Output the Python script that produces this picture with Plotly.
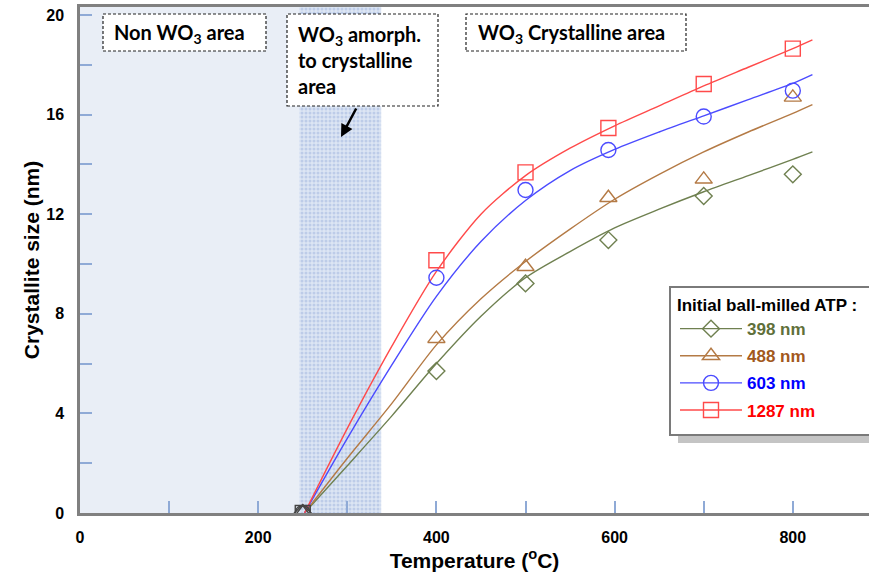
import plotly.graph_objects as go

# ---------------- data ----------------
temps = [250, 400, 500, 593, 700, 800]
size_398 = [0, 5.7, 9.22, 10.96, 12.73, 13.6]
size_488 = [0, 7.0, 9.89, 12.66, 13.4, 16.69]
size_603 = [0, 9.45, 12.97, 14.58, 15.92, 16.96]
size_1287 = [0, 10.15, 13.68, 15.46, 17.23, 18.65]

fit_x = [252, 300, 350, 400, 450, 500, 550, 600, 650, 700, 750, 800, 822]
fit_398 = [0, 1.9, 3.9, 6.0, 7.9, 9.45, 10.5, 11.45, 12.2, 12.9, 13.55, 14.2, 14.5]
fit_488 = [0, 2.2, 4.4, 6.75, 8.6, 10.1, 11.4, 12.6, 13.6, 14.5, 15.3, 16.05, 16.4]
fit_603 = [0, 3.0, 5.95, 8.7, 10.9, 12.55, 13.75, 14.6, 15.3, 15.95, 16.6, 17.25, 17.6]
fit_1287 = [0, 3.4, 6.7, 9.7, 12.0, 13.55, 14.65, 15.55, 16.35, 17.15, 17.9, 18.65, 19.0]

series_names = ["398 nm", "488 nm", "603 nm", "1287 nm"]
legend_title = "Initial ball-milled ATP :"
x_ticks = [0, 200, 400, 600, 800]
y_ticks = [0, 4, 8, 12, 16, 20]

# ---------------- geometry helpers ----------------
W, H = 869, 574
ML, MR, MT, MB = 80, 0, 7, 61
XMAX = 885.5
YMAX = 20.32
PW, PH = W - ML - MR, H - MT - MB


def xd(px):
    return (px - ML) / PW * XMAX


def yd(py):
    return (H - MB - py) / PH * YMAX


def xp(px):
    return (px - ML) / PW


def yp(py):
    return (H - MB - py) / PH


line_cols = ["#6F8050", "#B47A45", "#4B4BFF", "#FF4A4A"]
text_cols = ["#5F703A", "#A2581C", "#0000FF", "#FF0000"]
symbols = ["diamond-open", "triangle-up-open", "circle-open", "square-open"]
msizes = [13, 15, 15, 15]
FONT = "Liberation Sans, Arial"

fig = go.Figure()

# shaded amorphous->crystalline band (pattern)
fig.add_trace(go.Scatter(
    x=[246, 338, 338, 246, 246], y=[0, 0, YMAX, YMAX, 0],
    fill="toself", mode="none", hoverinfo="skip", showlegend=False,
    fillcolor="#D7E1F2",
    fillpattern=dict(shape=".", fgcolor="#9DB4DE", bgcolor="#DCE5F3", size=4, solidity=0.45),
))

fits = [fit_398, fit_488, fit_603, fit_1287]
pts = [size_398, size_488, size_603, size_1287]

for i in range(4):
    fig.add_trace(go.Scatter(
        x=fit_x, y=fits[i], mode="lines",
        line=dict(color=line_cols[i], width=1.4, shape="spline", smoothing=0.8),
        showlegend=False, hoverinfo="skip"))

for i in range(4):
    cols = ["#444444"] + [line_cols[i]] * (len(temps) - 1)
    fig.add_trace(go.Scatter(
        x=temps, y=pts[i], mode="markers",
        marker=dict(symbol=symbols[i], size=msizes[i], color=cols, line=dict(width=1.4)),
        showlegend=False))

for i in range(4):
    fig.add_trace(go.Scatter(
        x=[None], y=[None], mode="lines+markers", legendgroup="g%d" % i,
        name="<span style='color:%s'>%s</span>" % (text_cols[i], series_names[i]),
        line=dict(color=line_cols[i], width=1.4),
        marker=dict(symbol=symbols[i], size=msizes[i], color=line_cols[i], line=dict(width=1.4)),
    ))

shapes = []
# non-WO3 area background
shapes.append(dict(type="rect", xref="x", yref="y", x0=0, x1=246, y0=0, y1=YMAX,
                   fillcolor="#E9EEF6", line=dict(width=0), layer="below"))
# dashed text boxes
for (x0, x1, y0, y1) in [(103, 266, 14, 51), (287, 438, 14, 106), (466, 686, 14, 51)]:
    shapes.append(dict(type="rect", xref="x", yref="y", x0=xd(x0), x1=xd(x1), y0=yd(y1), y1=yd(y0),
                       fillcolor="white", line=dict(color="#222222", width=1.2, dash="3px,2px"), layer="above"))
# legend shadow and frame
shapes.append(dict(type="rect", xref="paper", yref="paper", x0=xp(678), x1=1.05, y0=yp(443), y1=yp(435),
                   fillcolor="#C4C4C4", line=dict(width=0), layer="above"))
shapes.append(dict(type="rect", xref="paper", yref="paper", x0=xp(670), x1=1.05, y0=yp(435), y1=yp(287),
                   fillcolor="white", line=dict(color="#7A7A7A", width=2), layer="above"))

ann_font = dict(family="Lato", size=20, color="black", weight="bold")
annotations = [
    dict(x=xd(112), y=yd(33), xref="x", yref="y", text="Non WO<sub>3</sub> area", showarrow=False,
         xanchor="left", yanchor="middle", font=ann_font),
    dict(x=xd(296), y=yd(60), xref="x", yref="y",
         text="WO<sub>3</sub> amorph.<br>to crystalline<br>area", showarrow=False, align="left",
         xanchor="left", yanchor="middle", font=ann_font),
    dict(x=xd(476), y=yd(33), xref="x", yref="y", text="WO<sub>3</sub> Crystalline area", showarrow=False,
         xanchor="left", yanchor="middle", font=ann_font),
    dict(x=xd(341), y=yd(137), xref="x", yref="y", ax=xd(357), ay=yd(107), axref="x", ayref="y",
         text="", showarrow=True, arrowhead=2, arrowsize=1, arrowwidth=2.5, arrowcolor="black"),
]

tick_col = "#8FAAD6"
fig.update_layout(
    width=W, height=H,
    margin=dict(l=ML, r=MR, t=MT, b=MB),
    paper_bgcolor="white", plot_bgcolor="white",
    font=dict(family=FONT, size=16, color="black"),
    shapes=shapes, annotations=annotations,
    legend=dict(
        x=xp(675), y=yp(289), xanchor="left", yanchor="top",
        bgcolor="rgba(0,0,0,0)", borderwidth=0,
        font=dict(family=FONT, size=17, weight="bold"),
        title=dict(text=legend_title, font=dict(family=FONT, size=17, weight="bold", color="black")),
        itemwidth=62, tracegroupgap=2,
    ),
    xaxis=dict(
        range=[0, XMAX], showgrid=False, zeroline=False,
        showline=True, linecolor="#808080", linewidth=2.5, mirror=True,
        tickmode="array", tickvals=x_ticks, ticktext=[str(v) for v in x_ticks],
        ticks="inside", ticklen=12, tickcolor=tick_col, tickwidth=1.5,
        minor=dict(dtick=100, tick0=0, ticks="inside", ticklen=12, tickcolor=tick_col, tickwidth=1.5),
        tickfont=dict(family=FONT, size=16, weight="bold"),
        ticklabelstandoff=8,
        automargin=False,
        title=dict(text="Temperature (<sup>o</sup>C)", standoff=2,
                   font=dict(family=FONT, size=21, weight="bold")),
    ),
    yaxis=dict(
        range=[0, YMAX], showgrid=False, zeroline=False,
        showline=True, linecolor="#808080", linewidth=2.5,
        tickmode="array", tickvals=y_ticks, ticktext=[str(v) for v in y_ticks],
        ticks="inside", ticklen=12, tickcolor=tick_col, tickwidth=1.5,
        minor=dict(dtick=2, tick0=0, ticks="inside", ticklen=12, tickcolor=tick_col, tickwidth=1.5),
        tickfont=dict(family=FONT, size=16, weight="bold"),
        ticklabelstandoff=10,
        automargin=False,
        title=dict(text="Crystallite size (nm)", standoff=1,
                   font=dict(family=FONT, size=21, weight="bold")),
    ),
)

fig.write_html("out.html")
